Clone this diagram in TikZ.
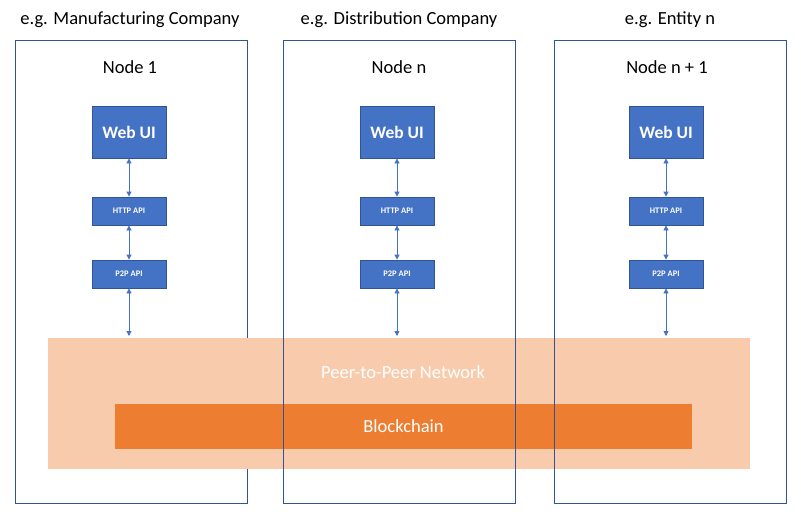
\documentclass[tikz,border=0pt]{standalone}
\usepackage{fontspec}
\setmainfont{Carlito}
\usetikzlibrary{arrows.meta}
\definecolor{frameblue}{HTML}{2F5597}
\definecolor{boxblue}{HTML}{4472C4}
\definecolor{peach}{HTML}{F7CBAC}
\definecolor{orangec}{HTML}{ED7D31}
\tikzset{
  frame/.style={draw=frameblue, line width=0.9pt},
  comp/.style={draw=frameblue, fill=boxblue, line width=0.8pt, text=white, inner sep=0pt},
  webui/.style={comp, minimum width=74pt, minimum height=52pt, font=\fontsize{17.5}{20}\selectfont\bfseries},
  api/.style={comp, minimum width=74pt, minimum height=28pt, font=\fontsize{8.5}{10}\selectfont\bfseries},
  link/.style={draw=boxblue, line width=0.8pt, {Triangle[width=5pt,length=5pt]}-{Triangle[width=5pt,length=5pt]}},
  ttl/.style={font=\fontsize{18.5}{21}\selectfont, anchor=center},
  band/.style={inner sep=0pt, text=white, font=\fontsize{18.5}{21}\selectfont}
}
\begin{document}
\begin{tikzpicture}[x=1pt, y=-1pt]
\useasboundingbox (0,0) rectangle (801,520);
% left frame (below the network)
\draw[frame] (15,40) rectangle (247,503);
% network and blockchain
\node[band, fill=peach, minimum width=702pt, minimum height=131pt] (net) at (399,403.5) {};
\node[band] (nettext) at (403,372) {Peer-to-Peer Network};
\node[band, fill=orangec, minimum width=577pt, minimum height=45pt] (chain) at (403.5,426.5) {Blockchain};
% middle and right frames (above the network)
\draw[frame] (283,40) rectangle (515,503);
\draw[frame] (554,40) rectangle (786,503);
% titles
\node[ttl] (t1) at (130,20) {e.g. Manufacturing Company};
\node[ttl] (t2) at (399,20) {e.g. Distribution Company};
\node[ttl] (t3) at (670,20) {e.g. Entity n};
\node[ttl] (n1) at (130,67) {Node 1};
\node[ttl] (n2) at (399,67) {Node n};
\node[ttl] (n3) at (667,67) {Node n + 1};
% components
\foreach \i/\cx in {1/129, 2/397, 3/666} {
  \node[webui] (w\i) at (\cx,132) {Web UI};
  \node[api] (h\i) at (\cx,211) {HTTP API};
  \node[api] (p\i) at (\cx,274) {P2P API};
  \coordinate (b\i) at (\cx,336);
  \draw[link] (w\i.south) -- (h\i.north);
  \draw[link] (h\i.south) -- (p\i.north);
  \draw[link] (p\i.south) -- (b\i);
}
\end{tikzpicture}
\end{document}
